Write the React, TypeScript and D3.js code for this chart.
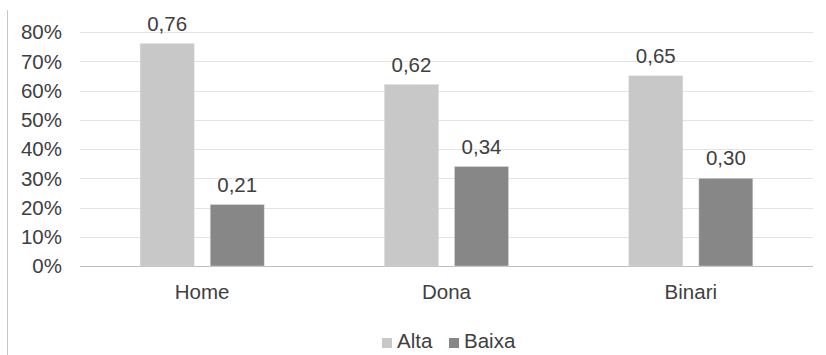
import React from "react";
import * as d3 from "d3";

const categories = ["Home", "Dona", "Binari"];
const seriesNames = ["Alta", "Baixa"];
const alta = [0.76, 0.62, 0.65];
const baixa = [0.21, 0.34, 0.30];
const yTicks = [0, 0.1, 0.2, 0.3, 0.4, 0.5, 0.6, 0.7, 0.8];
const colors = ["#c8c8c8", "#878787"];

export default function App() {
  const W = 826, H = 355;
  const left = 80, right = 813, top = 32, bottom = 266;
  const x = d3.scaleBand().domain(categories).range([left, right]).paddingInner(0).paddingOuter(0);
  const y = d3.scaleLinear().domain([0, 0.8]).range([bottom, top]);
  const groupW = 124;
  const x1 = d3.scaleBand().domain(seriesNames).range([0, groupW]).paddingInner(0.23);
  const series = [alta, baixa];
  const font = "'Liberation Sans', Arial, sans-serif";
  const fmt = (v: number) => v.toFixed(2).replace(".", ",");
  const fs = 20.5;
  return (
    <svg width={W} height={H} style={{ position: "absolute", left: 0, top: 0, background: "#fff" }} fontFamily={font}>
      <line x1={7.5} x2={7.5} y1={10} y2={H} stroke="#c8c8c8" strokeWidth={1} />
      {yTicks.map((t) => (
        <g key={t}>
          <line x1={left} x2={right} y1={Math.round(y(t)) + 0.5} y2={Math.round(y(t)) + 0.5} stroke={t === 0 ? "#bfbfbf" : "#e3e3e3"} strokeWidth={1} />
          <text x={62} y={y(t)} dy="0.36em" textAnchor="end" fontSize={fs} fill="#404040">{d3.format(".0%")(t)}</text>
        </g>
      ))}
      {categories.map((c, i) => {
        const gx = (x(c) as number) + x.bandwidth() / 2 - groupW / 2;
        return (
          <g key={c}>
            {series.map((s, j) => {
              const bx = gx + (x1(seriesNames[j]) as number);
              const bw = x1.bandwidth();
              return (
                <g key={j}>
                  <rect x={bx} y={y(s[i])} width={bw} height={bottom - y(s[i])} fill={colors[j]} stroke="#d8d8d8" strokeWidth={0.5} />
                  <text x={bx + bw / 2} y={y(s[i]) - 13} textAnchor="middle" fontSize={fs} fill="#404040">{fmt(s[i])}</text>
                </g>
              );
            })}
            <text x={(x(c) as number) + x.bandwidth() / 2} y={299} textAnchor="middle" fontSize={fs} fill="#404040">{c}</text>
          </g>
        );
      })}
      {seriesNames.map((n, j) => {
        const lx = j === 0 ? 382 : 449;
        return (
          <g key={n}>
            <rect x={lx} y={338} width={10} height={10} fill={colors[j]} />
            <text x={lx + 15} y={348} fontSize={fs} fill="#404040">{n}</text>
          </g>
        );
      })}
    </svg>
  );
}
